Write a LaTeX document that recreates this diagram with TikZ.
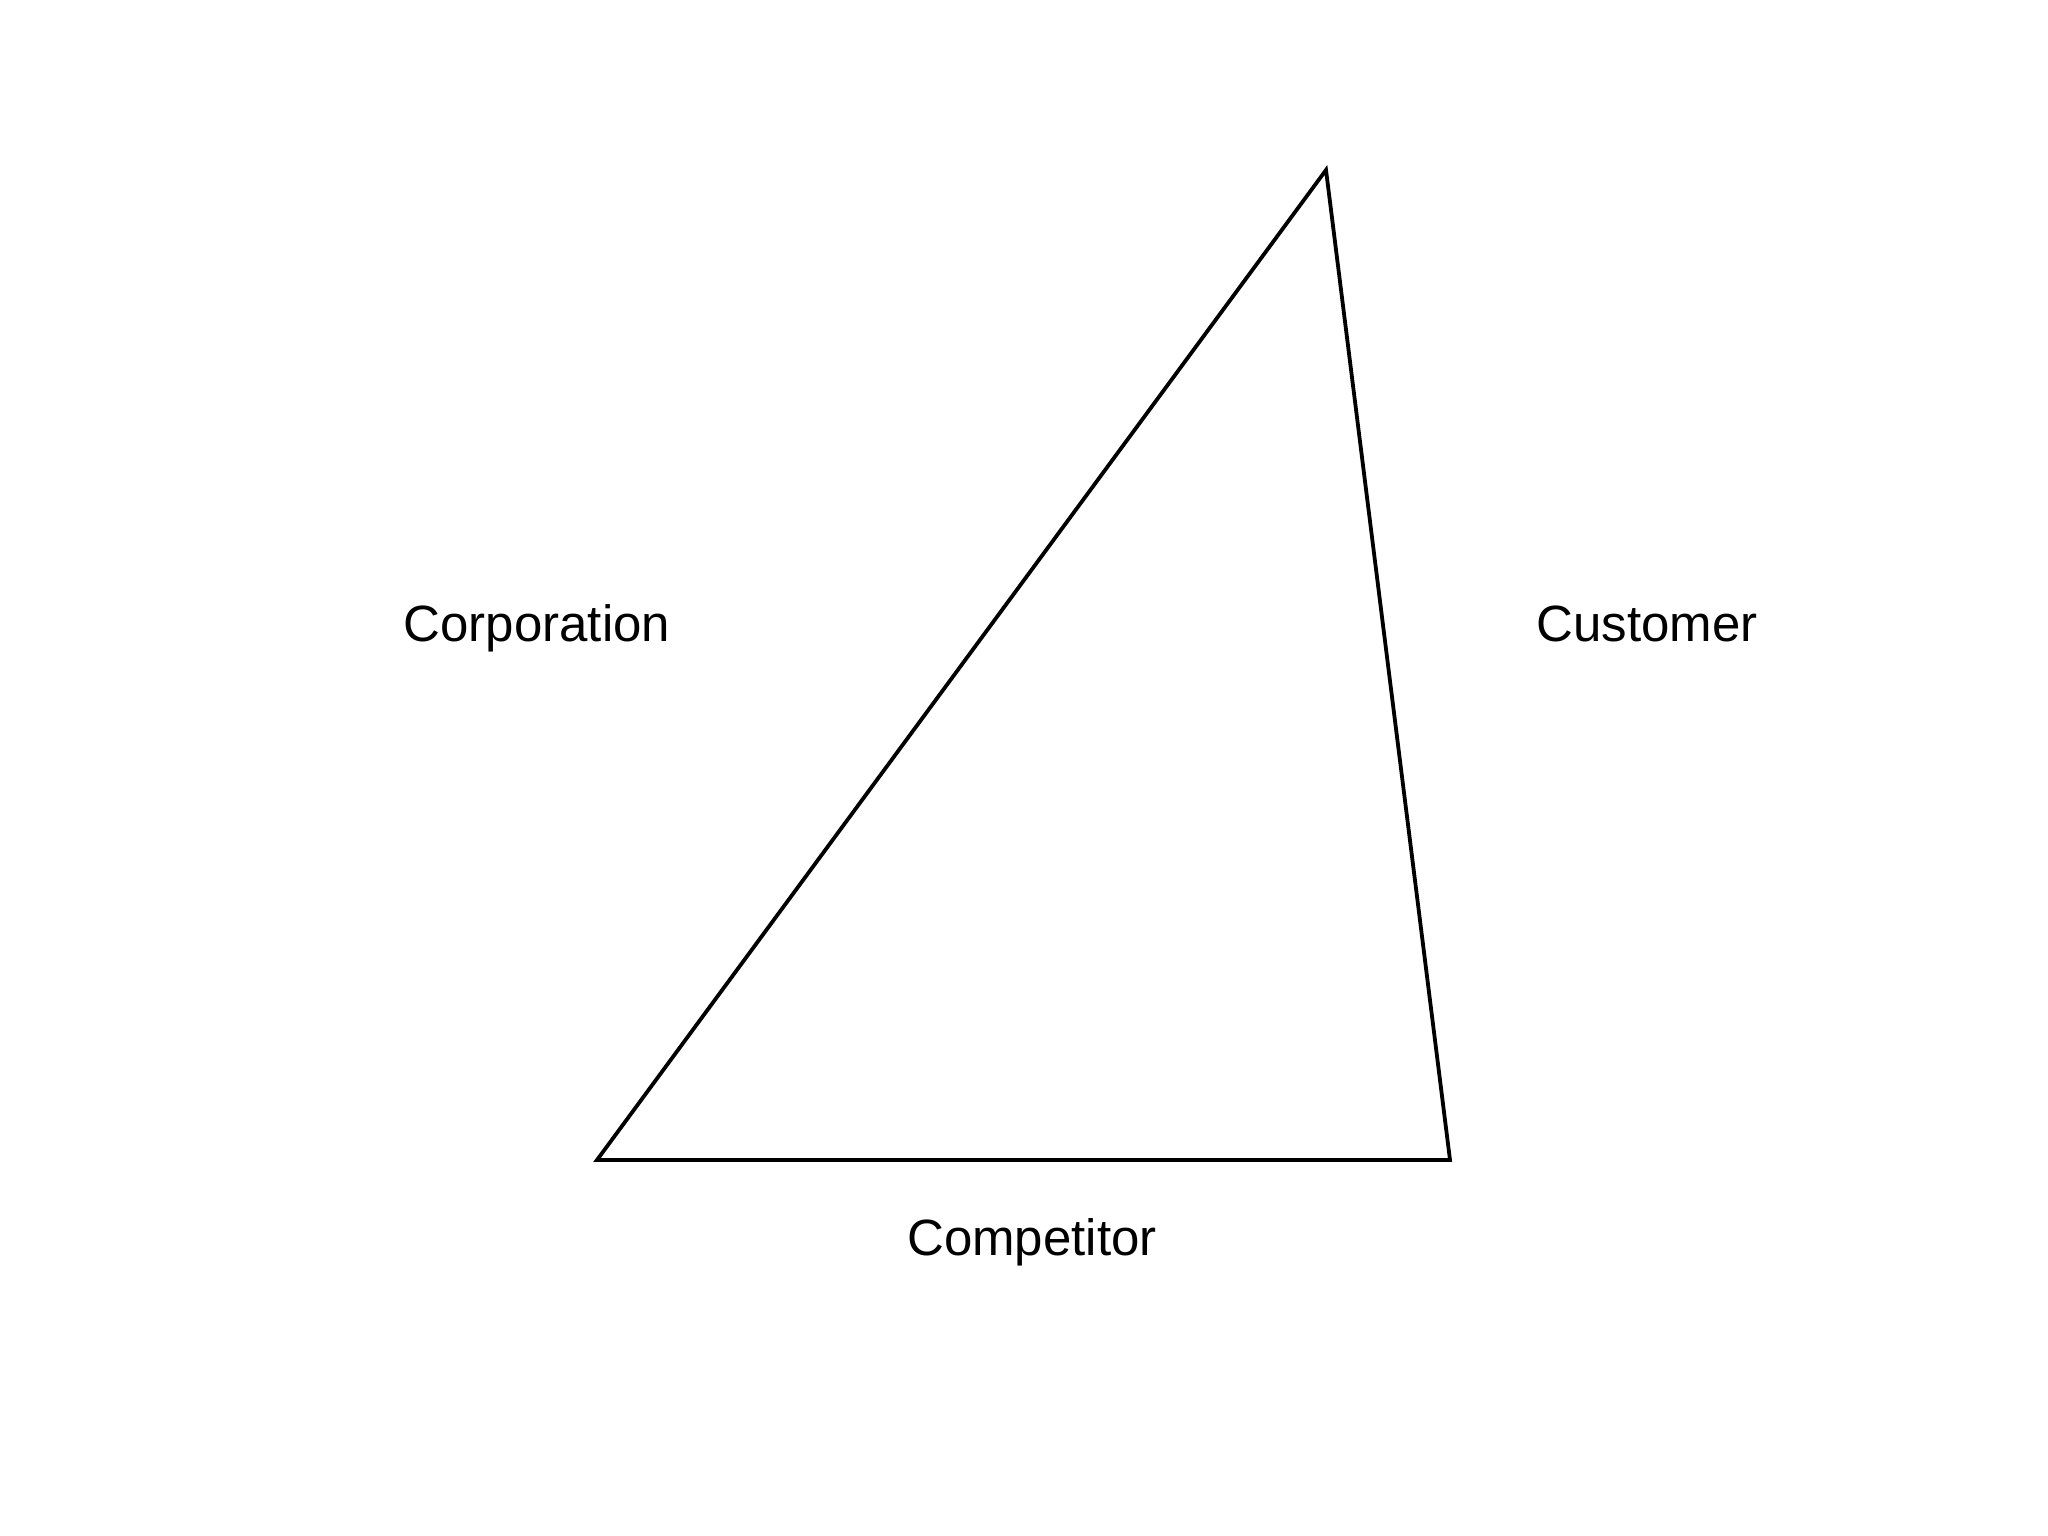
\documentclass[tikz,border=0pt]{standalone}
\usepackage{fontspec}
\setmainfont{Liberation Sans}
\begin{document}
\begin{tikzpicture}[x=1pt,y=-1pt,
  lbl/.style={font=\fontsize{51}{61}\selectfont, inner sep=0pt, anchor=base},
  edge/.style={line width=3.8pt, line join=miter}]
\useasboundingbox (0,0) rectangle (2048,1536);
\coordinate (top) at (1326,170);
\coordinate (bl) at (597,1160);
\coordinate (br) at (1450,1160);
\draw[edge] (top) -- (bl) -- (br) -- cycle;
\node[lbl] (corp) at (537,641) {Corporation};
\node[lbl] (cust) at (1647,641) {Customer};
\node[lbl] (comp) at (1032,1255) {Competitor};
\end{tikzpicture}
\end{document}
